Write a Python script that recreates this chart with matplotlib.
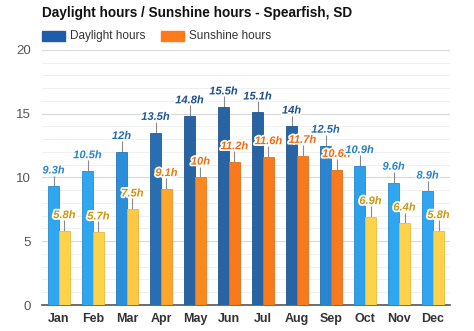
import numpy as np
import matplotlib.pyplot as plt
import matplotlib.patheffects as pe
from matplotlib.colors import LinearSegmentedColormap

# ========== DATOS ==========
meses = ['Jan', 'Feb', 'Mar', 'Apr', 'May', 'Jun', 'Jul', 'Aug', 'Sep', 'Oct', 'Nov', 'Dec']
horas_luz = [9.3, 10.5, 12.0, 13.5, 14.8, 15.5, 15.1, 14.0, 12.5, 10.9, 9.6, 8.9]
horas_sol = [5.8, 5.7, 7.5, 9.1, 10.0, 11.2, 11.6, 11.7, 10.6, 6.9, 6.4, 5.8]
etiquetas_luz = ['9.3h', '10.5h', '12h', '13.5h', '14.8h', '15.5h', '15.1h', '14h', '12.5h', '10.9h', '9.6h', '8.9h']
etiquetas_sol = ['5.8h', '5.7h', '7.5h', '9.1h', '10h', '11.2h', '11.6h', '11.7h', '10.6h', '6.9h', '6.4h', '5.8h']

plt.rcParams['font.family'] = ['Liberation Sans', 'DejaVu Sans']

# colores en degradado segun el valor
cmap_luz = LinearSegmentedColormap.from_list('luz', ['#2ea6f0', '#2a8ad6', '#2863a3'])
cmap_sol = LinearSegmentedColormap.from_list('sol', ['#ffd24c', '#ffb030', '#f97a1c'])
cmap_txt_luz = LinearSegmentedColormap.from_list('tluz', ['#2a86c8', '#1d4f8c'])
cmap_txt_sol = LinearSegmentedColormap.from_list('tsol', ['#c9980f', '#f06a10'])

def norm(v, lo, hi):
    return float(min(max((v - lo) / (hi - lo), 0.0), 1.0))

fig = plt.figure(figsize=(4.74, 3.31), dpi=100)
ax = fig.add_axes([0.0886, 0.0785, 0.861, 0.771])

x = np.arange(len(meses))
w = 0.32

for i in range(len(meses)):
    tl = norm(horas_luz[i], 10.5, 14.0)
    ts = norm(horas_sol[i], 7.0, 10.5)
    cl = cmap_luz(tl)
    cs = cmap_sol(ts)
    ax.bar(x[i] - w / 2, horas_luz[i], w, color=cl, edgecolor=tuple(c * 0.85 for c in cl[:3]), linewidth=0.6, zorder=3)
    ax.bar(x[i] + w / 2, horas_sol[i], w, color=cs, edgecolor=tuple(c * 0.9 for c in cs[:3]), linewidth=0.6, zorder=3)

    # lineas sobre las barras
    ax.vlines(x[i] - w / 2, horas_luz[i], horas_luz[i] + 0.85, color='#8a8a8a', linewidth=0.8, zorder=2)
    ax.vlines(x[i] + w / 2, horas_sol[i], horas_sol[i] + 0.85, color='#8a8a8a', linewidth=0.8, zorder=2)

    halo = [pe.withStroke(linewidth=2.5, foreground='white')]
    ax.text(x[i] - w / 2, horas_luz[i] + 0.85, etiquetas_luz[i], ha='center', va='bottom',
            fontsize=8, fontweight='bold', fontstyle='italic', color=cmap_txt_luz(tl),
            path_effects=halo, zorder=5)
    ax.text(x[i] + w / 2, horas_sol[i] + 0.85, etiquetas_sol[i], ha='center', va='bottom',
            fontsize=8, fontweight='bold', fontstyle='italic', color=cmap_txt_sol(ts),
            path_effects=halo, zorder=5)

ax.set_xlim(-0.5, len(meses) - 0.5)
ax.set_ylim(0, 20)
ax.set_yticks([0, 5, 10, 15, 20])
ax.set_yticks(np.arange(0, 21, 1), minor=True)
ax.set_xticks(x)
ax.set_xticklabels(meses, fontsize=9, fontweight='bold', color='#333333')
ax.tick_params(axis='y', labelsize=9.5, colors='#555555', length=0, pad=8)
ax.tick_params(axis='y', which='minor', length=0)
ax.tick_params(axis='x', length=0, pad=6)
ax.grid(axis='y', which='major', color='#d8d8d8', linewidth=0.8, zorder=0)
ax.grid(axis='y', which='minor', color='#eeeeee', linewidth=0.6, zorder=0)
for lado in ['top', 'right', 'left']:
    ax.spines[lado].set_visible(False)
ax.spines['bottom'].set_color('#555555')
ax.spines['bottom'].set_linewidth(1.2)

# titulo y leyenda
fig.text(42 / 474, 1 - 13 / 331, 'Daylight hours / Sunshine hours - Spearfish, SD',
         fontsize=9.8, fontweight='bold', color='#111111', va='center', ha='left')
fig.patches.append(plt.Rectangle((42 / 474, 1 - 41 / 331), 23 / 474, 10 / 331,
                                 transform=fig.transFigure, color='#1f5da8', figure=fig))
fig.text(70 / 474, 1 - 36 / 331, 'Daylight hours', fontsize=8.5, color='#333333', va='center')
fig.patches.append(plt.Rectangle((161 / 474, 1 - 41 / 331), 23 / 474, 10 / 331,
                                 transform=fig.transFigure, color='#ff7a1a', figure=fig))
fig.text(189 / 474, 1 - 36 / 331, 'Sunshine hours', fontsize=8.5, color='#333333', va='center')

plt.savefig('out.png', dpi=100)
